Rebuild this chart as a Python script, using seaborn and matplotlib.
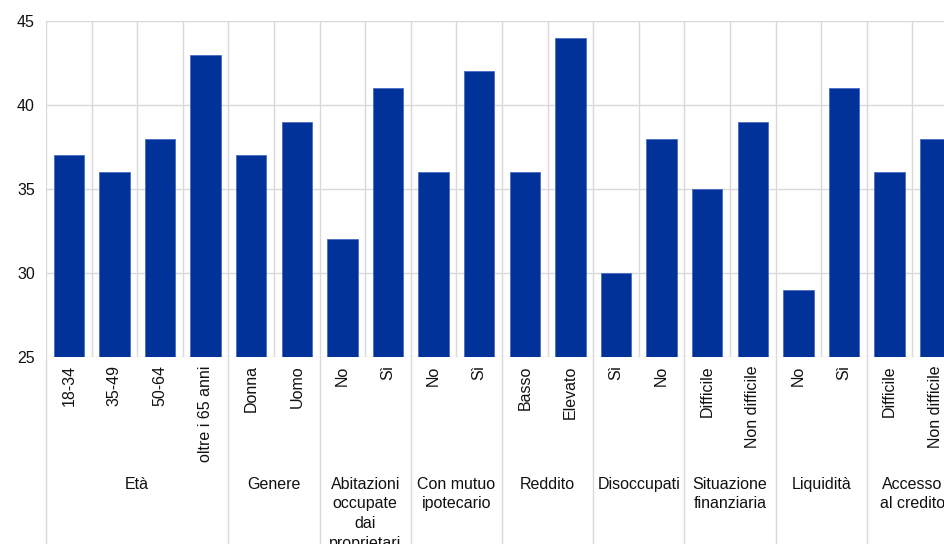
import numpy as np
import pandas as pd
import matplotlib
matplotlib.use("Agg")
import matplotlib.pyplot as plt
import seaborn as sns

# dati
gruppi = ["Età", "Genere", "Abitazioni\noccupate\ndai\nproprietari", "Con mutuo\nipotecario",
          "Reddito", "Disoccupati", "Situazione\nfinanziaria", "Liquidità", "Accesso\nal credito"]
n_per_gruppo = [4, 2, 2, 2, 2, 2, 2, 2, 2]
categorie = ["18-34", "35-49", "50-64", "oltre i 65 anni",
             "Donna", "Uomo",
             "No", "Sì",
             "No", "Sì",
             "Basso", "Elevato",
             "Sì", "No",
             "Difficile", "Non difficile",
             "No", "Sì",
             "Difficile", "Non difficile"]
valori = [37, 36, 38, 43, 37, 39, 32, 41, 36, 42, 36, 44, 30, 38, 35, 39, 29, 41, 36, 38]

sns.set_style("white")
plt.rcParams['font.family'] = ['Liberation Sans', 'DejaVu Sans']

df = pd.DataFrame({
    "pos": [str(i) for i in range(len(valori))],
    "valore": valori,
})

fig = plt.figure(figsize=(9.45, 5.44), dpi=100)
ax = fig.add_axes([46/945, 187/544, 912/945, 336/544])

sns.barplot(data=df, x="pos", y="valore", order=df["pos"], color="#003299",
            saturation=1, width=0.67, edgecolor="#4a6cc4", linewidth=0.6,
            ax=ax, zorder=3)

ax.set_ylim(25, 45)
ax.set_xlim(-0.5, len(valori) - 0.5)
ax.set_yticks([25, 30, 35, 40, 45])
ax.tick_params(axis='y', labelsize=11.5, length=0, pad=8, colors='#111111')
ax.set_xticks(range(len(valori)))
ax.set_xticklabels(categorie, rotation=90, fontsize=11.5, va='top')
ax.tick_params(axis='x', length=0, pad=6, colors='#111111')
ax.set_xlabel("")
ax.set_ylabel("")
for s in ax.spines.values():
    s.set_visible(False)

griglia = "#d9d9d9"
for y in [25, 30, 35, 40, 45]:
    ax.axhline(y, color=griglia, lw=1, zorder=1)
for x in np.arange(-0.5, len(valori), 1.0):
    ax.axvline(x, color=griglia, lw=1, zorder=1)

# separatori dei gruppi ed etichette sotto l'asse
trans = ax.get_xaxis_transform()
inizio = 0
for g, n in zip(gruppi, n_per_gruppo):
    ax.plot([inizio - 0.5, inizio - 0.5], [0, -0.6], color=griglia, lw=1,
            transform=trans, clip_on=False)
    centro = inizio + (n - 1) / 2
    ax.text(centro, -0.356, g, transform=trans, ha='center', va='top',
            fontsize=11.5, linespacing=1.4, color='#111111')
    inizio += n
ax.plot([inizio - 0.5, inizio - 0.5], [0, -0.6], color=griglia, lw=1,
        transform=trans, clip_on=False)

fig.savefig("out.png", dpi=100)
